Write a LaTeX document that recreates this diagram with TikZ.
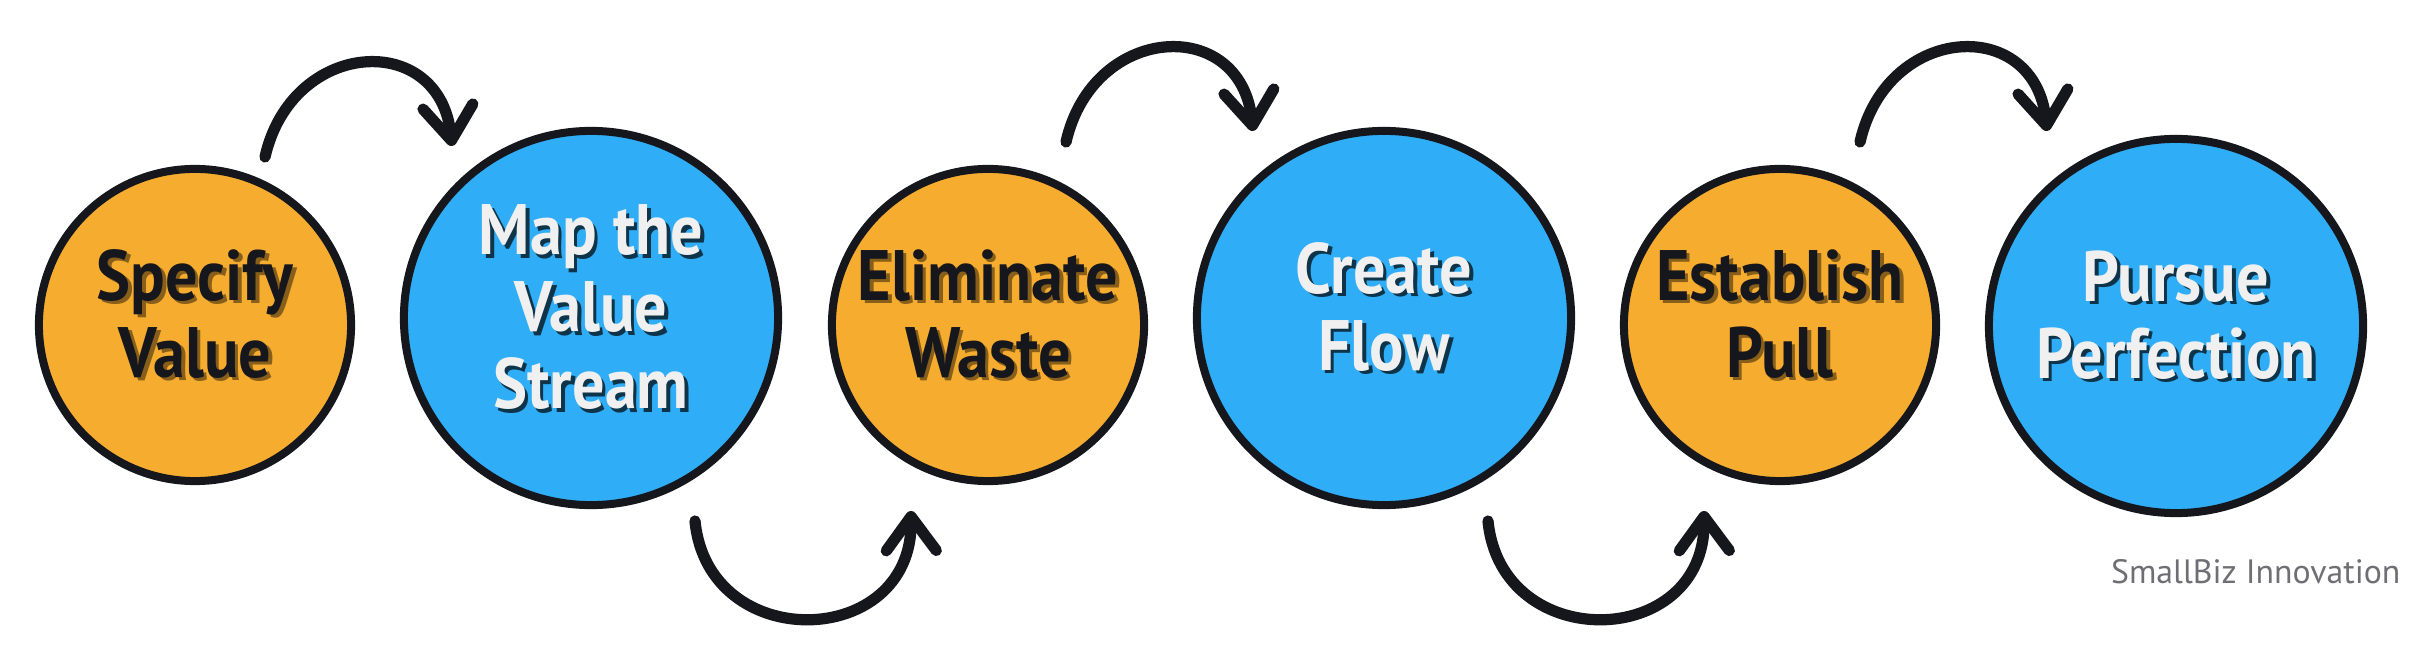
\documentclass[tikz,border=0pt]{standalone}
\usepackage{fontspec}
\setmainfont{PT Sans}
\newfontfamily\korfont[FakeStretch=0.9]{PT Sans}
\usetikzlibrary{arrows.meta,positioning}
\definecolor{narancs}{RGB}{246,172,47}
\definecolor{kek}{RGB}{47,173,247}
\definecolor{kontur}{RGB}{22,22,29}
\definecolor{feher}{RGB}{240,240,240}
\definecolor{szurke}{RGB}{110,110,116}
% szoveg arnyekkal
\newcommand{\arnyek}[2]{\leavevmode\rlap{\hspace{1pt}\raisebox{-1pt}{\color{#1}\begin{tabular}{@{}c@{}}#2\end{tabular}}}\begin{tabular}{@{}c@{}}#2\end{tabular}}

\begin{document}
\begin{tikzpicture}[x=0.01cm,y=-0.01cm,
    kor/.style={circle,draw=kontur,line width=0.08cm,inner sep=0pt,
      font=\korfont\bfseries\fontsize{20.3}{21.9}\selectfont},
    kicsi/.style={kor,fill=narancs,minimum size=3.12cm,text=kontur},
    nagy/.style={kor,fill=kek,minimum size=3.74cm,text=feher},
    nyil/.style={draw=kontur,line width=3.2pt,line cap=round,
      -{Straight Barb[length=3.4mm,width=5mm,round]}}]

    \useasboundingbox (0,0) rectangle (2416,649);

    \node[kicsi] (ertek) at (195,325) {\arnyek{narancs!55!black}{Specify\\Value}};
    \node[nagy] (terkep) at (591,318) {\arnyek{kek!30!black}{Map the\\Value\\Stream}};
    \node[kicsi] (pazarlas) at (988,325) {\arnyek{narancs!55!black}{Eliminate\\Waste}};
    \node[nagy] (aramlas) at (1384,318) {\arnyek{kek!30!black}{Create\\Flow}};
    \node[kicsi] (huzas) at (1780,325) {\arnyek{narancs!55!black}{Establish\\Pull}};
    \node[nagy] (tokeletes) at (2176,326) {\arnyek{kek!30!black}{Pursue\\Perfection}};

    % nyilak fent
    \coordinate (f1) at (265,157); \coordinate (f1v) at (452,146);
    \coordinate (f2) at (1066,142); \coordinate (f2v) at (1253,131);
    \coordinate (f3) at (1860,142); \coordinate (f3v) at (2047,131);
    \draw[nyil] (f1) .. controls (292,38) and (440,30) .. (f1v);
    \draw[nyil] (f2) .. controls (1093,23) and (1241,15) .. (f2v);
    \draw[nyil] (f3) .. controls (1887,23) and (2035,15) .. (f3v);

    % nyilak lent
    \coordinate (l1) at (695,521); \coordinate (l1v) at (911,511);
    \coordinate (l2) at (1488,521); \coordinate (l2v) at (1704,511);
    \draw[nyil] (l1) .. controls (708,655) and (912,650) .. (l1v);
    \draw[nyil] (l2) .. controls (1501,655) and (1705,650) .. (l2v);

    \node[anchor=base east,inner sep=0pt,text=szurke,font=\fontsize{9.6}{11}\selectfont] (jel) at (2401,583) {SmallBiz Innovation};

\end{tikzpicture}
\end{document}
